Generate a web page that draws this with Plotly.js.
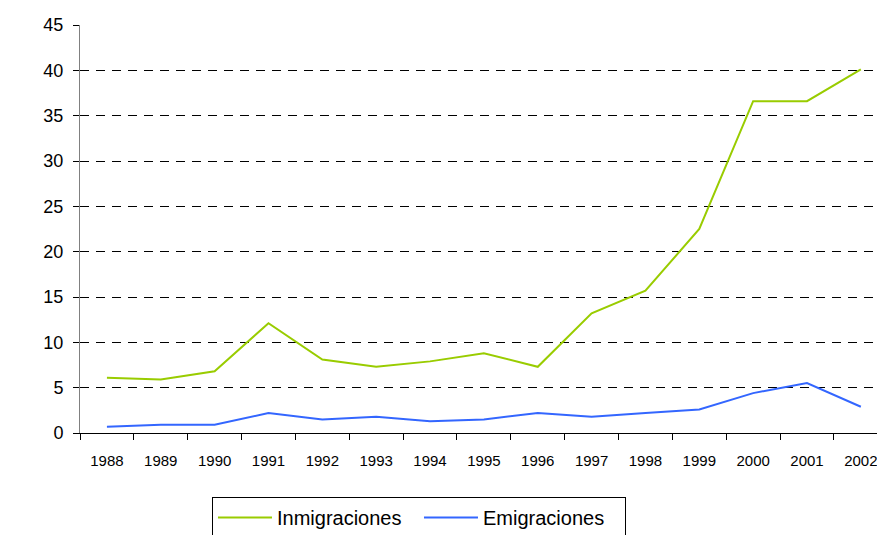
<!DOCTYPE html>
<html>
<head>
<meta charset="utf-8">
<script src="https://cdn.plot.ly/plotly-3.0.1.min.js"></script>
<style>html,body{margin:0;padding:0;background:#fff;}#chart{width:877px;height:535px;}</style>
</head>
<body>
<div id="chart"></div>
<script>
const years = ['1988','1989','1990','1991','1992','1993','1994','1995','1996','1997','1998','1999','2000','2001','2002'];
const inmigraciones = [6.1, 5.9, 6.8, 12.1, 8.1, 7.3, 7.9, 8.8, 7.3, 13.2, 15.7, 22.5, 36.6, 36.6, 40.1];
const emigraciones = [0.7, 0.9, 0.9, 2.2, 1.5, 1.8, 1.3, 1.5, 2.2, 1.8, 2.2, 2.6, 4.4, 5.5, 2.9];
const yTicks = [0, 5, 10, 15, 20, 25, 30, 35, 40, 45];

const FONT = '"Liberation Sans", Arial, sans-serif';

const traces = [
  {x: years, y: inmigraciones, name: 'Inmigraciones', type: 'scatter', mode: 'lines',
   line: {color: '#99CC00', width: 2}},
  {x: years, y: emigraciones, name: 'Emigraciones', type: 'scatter', mode: 'lines',
   line: {color: '#3366FF', width: 2}}
];

const layout = {
  width: 877, height: 535,
  margin: {l: 80, r: 0, t: 25, b: 102, pad: 0, autoexpand: false},
  paper_bgcolor: '#fff', plot_bgcolor: '#fff',
  font: {family: FONT, color: '#000'},
  showlegend: true,
  legend: {
    orientation: 'h', x: 0.1656, y: -0.157, xanchor: 'left', yanchor: 'top',
    bordercolor: '#000', borderwidth: 1, bgcolor: '#fff',
    font: {size: 20, family: FONT},
    itemwidth: 54,
    entrywidth: 137, entrywidthmode: 'pixels',
    traceorder: 'normal'
  },
  xaxis: {
    type: 'category', range: [-0.5, 14.3],
    tickson: 'boundaries', ticks: 'outside', ticklen: 6, tickcolor: '#000',
    showline: true, linecolor: '#000', linewidth: 1,
    showgrid: false, zeroline: false,
    tickfont: {size: 15, family: FONT},
    ticklabelstandoff: 14
  },
  yaxis: {
    range: [0, 45], tickvals: yTicks, ticktext: yTicks.map(String),
    ticks: 'outside', ticklen: 6, tickcolor: '#000',
    showline: true, linecolor: '#808080', linewidth: 1,
    showgrid: true, gridcolor: '#000', gridwidth: 1, griddash: '9px,7px',
    zeroline: false,
    tickfont: {size: 18, family: FONT},
    ticklabelstandoff: 6
  }
};

Plotly.newPlot('chart', traces, layout, {displayModeBar: false, staticPlot: true});
</script>
</body>
</html>
